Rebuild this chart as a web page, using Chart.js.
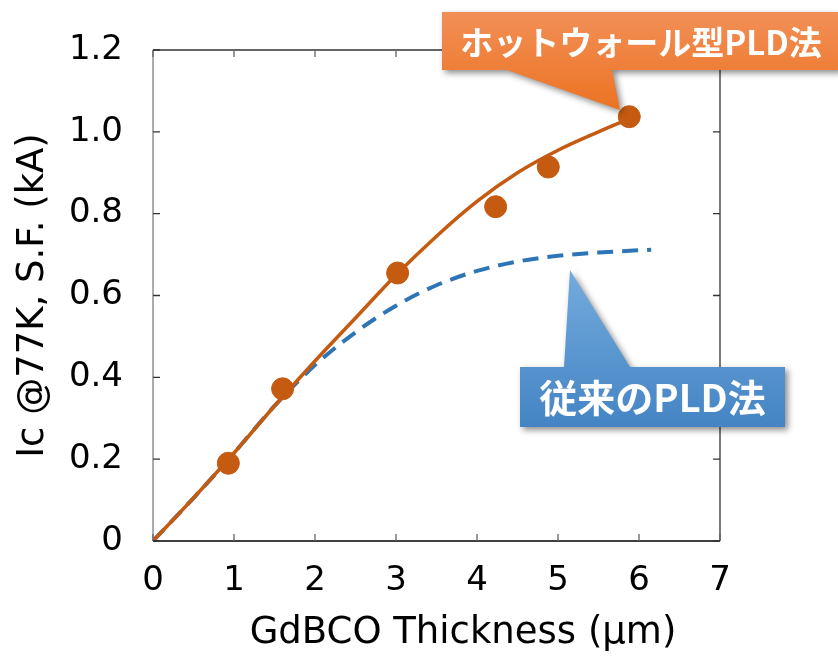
<!DOCTYPE html>
<html>
<head>
<meta charset="utf-8">
<script src="https://cdn.jsdelivr.net/npm/chart.js@4/dist/chart.umd.min.js"></script>
<style>
  html, body { margin: 0; padding: 0; background: #fff; }
  #wrap { width: 838px; height: 657px; }
</style>
</head>
<body>
<div id="wrap"><canvas id="c" width="838" height="657"></canvas></div>
<script>
// Measured critical current vs. GdBCO layer thickness (hot-wall PLD)
const thicknessMeasured = [0.93, 1.6, 3.02, 4.23, 4.88, 5.88];
const icMeasured = [0.19, 0.372, 0.655, 0.817, 0.914, 1.037];

// Trend curve through the hot-wall PLD data
const thicknessHotWall = [0, 0.5, 1, 1.5, 2, 2.5, 3, 3.5, 4, 4.5, 5, 5.5, 5.82];
const icHotWall = [0, 0.105, 0.215, 0.33, 0.44, 0.545, 0.65, 0.745, 0.83, 0.9, 0.955, 1.0, 1.027];

// Trend curve for conventional PLD
const thicknessConventional = [0, 0.5, 1, 1.5, 2, 2.5, 3, 3.5, 4, 4.5, 5, 5.5, 6.15];
const icConventional = [0, 0.105, 0.215, 0.33, 0.43, 0.51, 0.575, 0.625, 0.66, 0.683, 0.697, 0.705, 0.712];

const xTicks = [0, 1, 2, 3, 4, 5, 6, 7];
const yTicks = [0, 0.2, 0.4, 0.6, 0.8, 1.0, 1.2];

const xTitle = 'GdBCO Thickness (μm)';
const yTitle = 'Ic @77K, S.F. (kA)';
const labelHotWall = 'ホットウォール型PLD法';
const labelConventional = '従来のPLD法';

const toXY = (xs, ys) => xs.map((x, i) => ({ x: x, y: ys[i] }));

const ORANGE = '#C55A11';
const BLUE = '#2E75B6';
const FONT = "'DejaVu Sans', Verdana, sans-serif";
const CJK = "'Noto Sans CJK JP', 'Noto Sans CJK SC', sans-serif";

// Frame with inward ticks on all four sides, plus the x-axis caption
const framePlugin = {
  id: 'frame',
  afterDatasetsDraw(chart) {
    const { ctx, chartArea: a, scales } = chart;
    const t = 7;
    ctx.save();
    ctx.lineWidth = 1.3;
    ctx.strokeStyle = '#333';
    ctx.beginPath();
    ctx.moveTo(a.left, a.top); ctx.lineTo(a.right, a.top); ctx.lineTo(a.right, a.bottom);
    ctx.stroke();
    ctx.strokeStyle = '#000';
    ctx.beginPath();
    ctx.moveTo(a.left, a.bottom); ctx.lineTo(a.right, a.bottom);
    ctx.stroke();
    ctx.strokeStyle = '#7f7f7f';
    ctx.beginPath();
    ctx.moveTo(a.left, a.top); ctx.lineTo(a.left, a.bottom);
    ctx.stroke();
    ctx.strokeStyle = '#666';
    xTicks.forEach(v => {
      const px = scales.x.getPixelForValue(v);
      ctx.beginPath();
      ctx.moveTo(px, a.bottom); ctx.lineTo(px, a.bottom - t);
      ctx.moveTo(px, a.top); ctx.lineTo(px, a.top + t);
      ctx.stroke();
    });
    ctx.strokeStyle = '#333';
    yTicks.forEach(v => {
      const py = scales.y.getPixelForValue(v);
      ctx.beginPath();
      ctx.moveTo(a.left, py); ctx.lineTo(a.left + t, py);
      ctx.moveTo(a.right, py); ctx.lineTo(a.right - t, py);
      ctx.stroke();
    });
    // x caption sits a little right of the axis centre
    ctx.fillStyle = '#000';
    ctx.font = '37px ' + FONT;
    ctx.textAlign = 'center';
    ctx.textBaseline = 'middle';
    ctx.fillText(xTitle, 463, 633);
    ctx.restore();
  }
};

// Speech-bubble callouts naming each curve
function drawCallout(ctx, box, tri, colors, text, fontSize, textY) {
  ctx.save();
  const minY = Math.min(box.y0, tri.tipY);
  const maxY = Math.max(box.y1, tri.tipY);
  const g = ctx.createLinearGradient(0, minY, 0, maxY);
  g.addColorStop(0, colors[0]);
  g.addColorStop(1, colors[1]);
  ctx.beginPath();
  ctx.moveTo(box.x0, box.y0);
  if (tri.side === 'top') {
    ctx.lineTo(tri.b0, box.y0);
    ctx.lineTo(tri.tipX, tri.tipY);
    ctx.lineTo(tri.b1, box.y0);
  }
  ctx.lineTo(box.x1, box.y0);
  ctx.lineTo(box.x1, box.y1);
  if (tri.side === 'bottom') {
    ctx.lineTo(tri.b1, box.y1);
    ctx.lineTo(tri.tipX, tri.tipY);
    ctx.lineTo(tri.b0, box.y1);
  }
  ctx.lineTo(box.x0, box.y1);
  ctx.closePath();
  ctx.shadowColor = 'rgba(0,0,0,0.45)';
  ctx.shadowBlur = 6;
  ctx.shadowOffsetX = 3;
  ctx.shadowOffsetY = 3;
  ctx.fillStyle = g;
  ctx.fill();
  ctx.shadowColor = 'transparent';
  ctx.fillStyle = '#fff';
  ctx.font = 'bold ' + fontSize + 'px ' + CJK;
  ctx.textAlign = 'center';
  ctx.textBaseline = 'middle';
  ctx.fillText(text, (box.x0 + box.x1) / 2, textY);
  ctx.restore();
}

const calloutPlugin = {
  id: 'callouts',
  afterDraw(chart) {
    const ctx = chart.ctx;
    drawCallout(ctx,
      { x0: 442, y0: 12, x1: 840, y1: 70 },
      { side: 'bottom', b0: 507, b1: 612, tipX: 620, tipY: 110 },
      ['#F28F57', '#EC7322'], labelHotWall, 33, 42);
    drawCallout(ctx,
      { x0: 520, y0: 367, x1: 785, y1: 427 },
      { side: 'top', b0: 564, b1: 630, tipX: 570, tipY: 270 },
      ['#74ABDD', '#4484C4'], labelConventional, 38, 398);
  }
};

new Chart(document.getElementById('c'), {
  type: 'scatter',
  data: {
    datasets: [
      {
        label: labelConventional,
        type: 'line',
        data: toXY(thicknessConventional, icConventional),
        borderColor: BLUE,
        borderWidth: 4,
        borderDash: [16, 9],
        pointRadius: 0,
        fill: false,
        cubicInterpolationMode: 'monotone',
        order: 3
      },
      {
        label: labelHotWall,
        type: 'line',
        data: toXY(thicknessHotWall, icHotWall),
        borderColor: ORANGE,
        borderWidth: 3.5,
        pointRadius: 0,
        fill: false,
        cubicInterpolationMode: 'monotone',
        order: 2
      },
      {
        label: 'measured',
        data: toXY(thicknessMeasured, icMeasured),
        backgroundColor: ORANGE,
        borderColor: ORANGE,
        pointRadius: 11,
        pointHoverRadius: 11,
        order: 1
      }
    ]
  },
  options: {
    responsive: false,
    devicePixelRatio: 1,
    animation: false,
    layout: { padding: { left: 0, right: 118, top: 50, bottom: 0 } },
    plugins: { legend: { display: false }, tooltip: { enabled: false } },
    scales: {
      x: {
        type: 'linear',
        min: 0, max: 7,
        afterBuildTicks: s => { s.ticks = xTicks.map(v => ({ value: v })); },
        afterFit: s => { s.height = 116; },
        grid: { display: false },
        border: { display: false },
        ticks: { color: '#000', font: { family: FONT, size: 34 }, padding: 12, maxRotation: 0 },
        title: { display: false }
      },
      y: {
        type: 'linear',
        min: 0, max: 1.2,
        afterBuildTicks: s => { s.ticks = yTicks.map(v => ({ value: v })); },
        afterFit: s => { s.width = 153; },
        grid: { display: false },
        border: { display: false },
        ticks: {
          color: '#000', font: { family: FONT, size: 34 }, padding: 22,
          callback: v => (v === 0 ? '0' : v.toFixed(1))
        },
        title: {
          display: true, text: yTitle, color: '#000',
          font: { family: FONT, size: 37 }, padding: { top: 11, bottom: 0 }
        }
      }
    }
  },
  plugins: [framePlugin, calloutPlugin]
});
</script>
</body>
</html>
